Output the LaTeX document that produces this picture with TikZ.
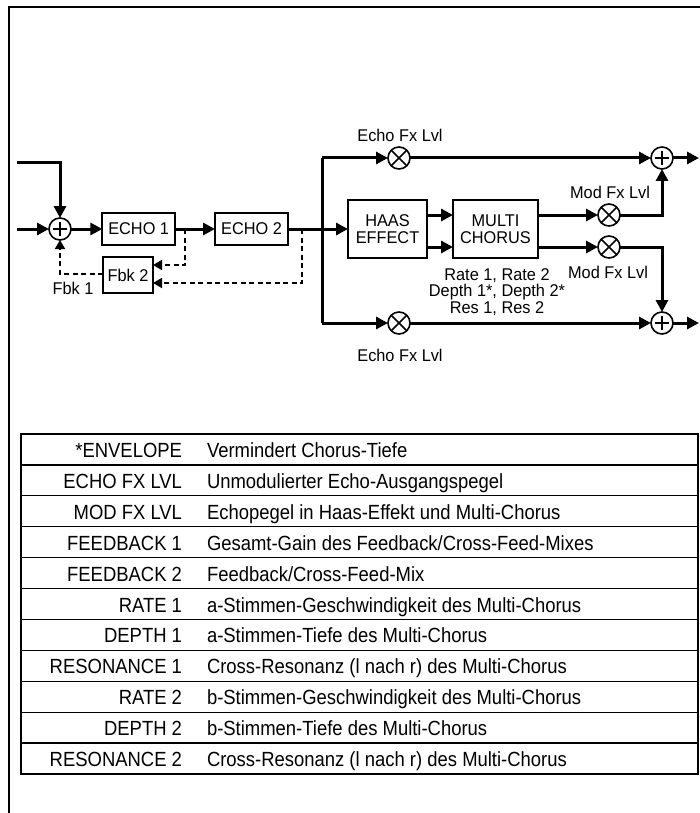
\documentclass[tikz,border=0pt]{standalone}
\usepackage{fontspec}
\setmainfont{Liberation Sans}[FakeStretch=0.96]
\newfontfamily\tabfont{Liberation Sans}[FakeStretch=0.9]
\usetikzlibrary{arrows.meta}
\begin{document}
\begin{tikzpicture}[x=1pt,y=-1pt,
  every node/.style={font=\fontsize{17}{16.5}\selectfont, inner sep=0pt, outer sep=0pt},
  tip/.style={-{Triangle[length=12pt,width=12pt]}},
  dtip/.style={-{Triangle[length=9pt,width=10pt]}},
  sig/.style={line width=3pt},
  fb/.style={line width=1.8pt, dash pattern=on 5pt off 3.5pt},
  blk/.style={draw, line width=1.8pt, align=center},
  mul/.style={circle, draw, line width=1.6pt, minimum size=22pt,
    path picture={\draw[line width=1.6pt]
      (path picture bounding box.north west) -- (path picture bounding box.south east)
      (path picture bounding box.north east) -- (path picture bounding box.south west);}},
  sum/.style={circle, draw, line width=1.6pt, minimum size=22pt,
    path picture={\draw[line width=1.4pt]
      ([xshift=-7pt]path picture bounding box.center) -- ([xshift=7pt]path picture bounding box.center)
      ([yshift=-7pt]path picture bounding box.center) -- ([yshift=7pt]path picture bounding box.center);}},
  tlab/.style={anchor=base east, font=\tabfont\fontsize{20.5}{22}\selectfont},
  tdesc/.style={anchor=base west, font=\tabfont\fontsize{20.5}{22}\selectfont},
]
\useasboundingbox (0,0) rectangle (700,813);
% outer frame
\draw[line width=2.5pt] (9,813) -- (9,7) -- (700,7);

% blocks
\node[blk, minimum width=72.7pt, minimum height=32pt] (e1) at (138.7,229) {ECHO 1};
\node[blk, minimum width=73pt, minimum height=32pt] (e2) at (251.5,229) {ECHO 2};
\node[blk, minimum width=50pt, minimum height=36pt] (f2) at (128,275) {Fbk 2};
\node[blk, minimum width=79pt, minimum height=58pt] (haas) at (387.5,229) {HAAS\\EFFECT};
\node[blk, minimum width=85pt, minimum height=58pt] (mc) at (495.5,229) {MULTI\\CHORUS};

% summers and multipliers
\node[sum] (s1) at (60,229) {};
\node[mul] (m1) at (399,158) {};
\node[sum] (s2) at (662,158) {};
\node[mul] (ma) at (609,215) {};
\node[mul] (mb) at (609,247) {};
\node[mul] (m3) at (399,323) {};
\node[sum] (s3) at (662,323) {};

% coordinates
\coordinate (in1) at (17,229);
\coordinate (in2) at (17,163);
\coordinate (j) at (322,229);
\coordinate (jt) at (322,158);
\coordinate (jb) at (322,323);
\coordinate (o1) at (699,158);
\coordinate (o2) at (699,323);
\coordinate (d1) at (185,229);
\coordinate (d2) at (302,229);
\coordinate (ya) at (0,215);
\coordinate (yb) at (0,247);
\coordinate (y1) at (0,265);
\coordinate (y2) at (0,283);
\coordinate (y3) at (0,274);

% signal lines
\draw[sig,tip] (in1) -- (s1);
\draw[sig,tip] (in2) -| (s1);
\draw[sig,tip] (s1) -- (e1);
\draw[sig,tip] (e1) -- (e2);
\draw[sig] (e2) -- (j);
\draw[sig,tip] (j) -- (haas);
\draw[sig] (jt) -- (jb);
\draw[sig,tip] (jt) -- (m1);
\draw[sig,tip] (m1) -- (s2);
\draw[sig,tip] (s2) -- (o1);
\draw[sig,tip] (jb) -- (m3);
\draw[sig,tip] (m3) -- (s3);
\draw[sig,tip] (s3) -- (o2);
\draw[sig,tip] (haas.east |- ya) -- (mc.west |- ya);
\draw[sig,tip] (haas.east |- yb) -- (mc.west |- yb);
\draw[sig,tip] (mc.east |- ya) -- (ma);
\draw[sig,tip] (ma) -| (s2);
\draw[sig,tip] (mc.east |- yb) -- (mb);
\draw[sig,tip] (mb) -| (s3);

% feedback
\draw[fb,dtip] (d1) |- (f2.east |- y1);
\draw[fb,dtip] (d2) |- (f2.east |- y2);
\draw[fb,dtip] (f2.west |- y3) -| (s1);

% labels
\node (l1) at (400,135) {Echo Fx Lvl};
\node (l2) at (400,355) {Echo Fx Lvl};
\node (l3) at (610,192) {Mod Fx Lvl};
\node (l4) at (608,272) {Mod Fx Lvl};
\node[align=center] (par) at (497,292) {Rate 1, Rate 2\\Depth 1*, Depth 2*\\Res 1, Res 2};
\node (fbk1) at (73,288) {Fbk 1};

% table
\draw[line width=1.2pt] \foreach \i in {1,...,10} {(21,434+\i*30.909) -- (698,434+\i*30.909)};
\draw[line width=2.5pt] (21,434) rectangle (698,774);
\node[tlab] (ta1) at (182,457.5) {*ENVELOPE};
\node[tdesc] (td1) at (207,457.5) {Vermindert Chorus-Tiefe};
\node[tlab] (ta2) at (182,488.4) {ECHO FX LVL};
\node[tdesc] (td2) at (207,488.4) {Unmodulierter Echo-Ausgangspegel};
\node[tlab] (ta3) at (182,519.3) {MOD FX LVL};
\node[tdesc] (td3) at (207,519.3) {Echopegel in Haas-Effekt und Multi-Chorus};
\node[tlab] (ta4) at (182,550.2) {FEEDBACK 1};
\node[tdesc] (td4) at (207,550.2) {Gesamt-Gain des Feedback/Cross-Feed-Mixes};
\node[tlab] (ta5) at (182,581.1) {FEEDBACK 2};
\node[tdesc] (td5) at (207,581.1) {Feedback/Cross-Feed-Mix};
\node[tlab] (ta6) at (182,612.0) {RATE 1};
\node[tdesc] (td6) at (207,612.0) {a-Stimmen-Geschwindigkeit des Multi-Chorus};
\node[tlab] (ta7) at (182,642.9) {DEPTH 1};
\node[tdesc] (td7) at (207,642.9) {a-Stimmen-Tiefe des Multi-Chorus};
\node[tlab] (ta8) at (182,673.9) {RESONANCE 1};
\node[tdesc] (td8) at (207,673.9) {Cross-Resonanz (l nach r) des Multi-Chorus};
\node[tlab] (ta9) at (182,704.8) {RATE 2};
\node[tdesc] (td9) at (207,704.8) {b-Stimmen-Geschwindigkeit des Multi-Chorus};
\node[tlab] (ta10) at (182,735.7) {DEPTH 2};
\node[tdesc] (td10) at (207,735.7) {b-Stimmen-Tiefe des Multi-Chorus};
\node[tlab] (ta11) at (182,766.6) {RESONANCE 2};
\node[tdesc] (td11) at (207,766.6) {Cross-Resonanz (l nach r) des Multi-Chorus};
\end{tikzpicture}
\end{document}
